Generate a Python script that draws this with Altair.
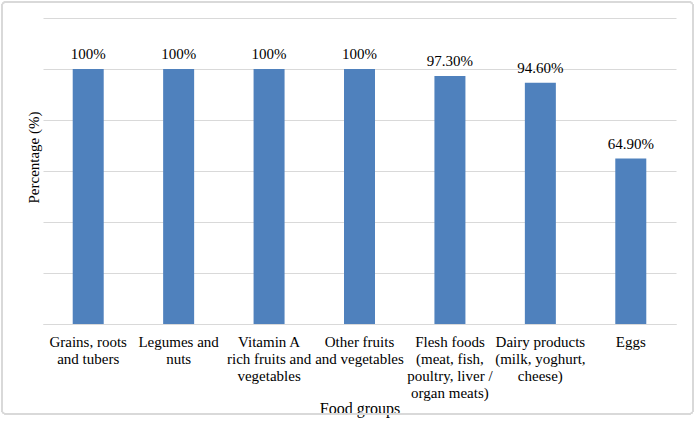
import altair as alt
import pandas as pd

categories = [
    "Grains, roots\nand tubers",
    "Legumes and\nnuts",
    "Vitamin A\nrich fruits and\nvegetables",
    "Other fruits\nand vegetables",
    "Flesh foods\n(meat, fish,\npoultry, liver /\norgan meats)",
    "Dairy products\n(milk, yoghurt,\ncheese)",
    "Eggs",
]
values = [100, 100, 100, 100, 97.3, 94.6, 64.9]
value_labels = ["100%", "100%", "100%", "100%", "97.30%", "94.60%", "64.90%"]

df = pd.DataFrame({"cat": categories, "val": values, "lab": value_labels})

FONT = "Liberation Serif"

x = alt.X("cat:N", sort=categories, title="Food groups",
          scale=alt.Scale(paddingInner=0.0, paddingOuter=0.0),
          axis=alt.Axis(labelExpr="split(datum.label, '\\n')", labelAngle=0,
                        labelFont=FONT, labelFontSize=15, labelColor="black",
                        labelFontWeight="normal",
                        labelLineHeight=17, labelPadding=10, labelBaseline="top",
                        ticks=False, domainColor="#d9d9d9",
                        titleFont=FONT, titleFontSize=16, titleFontWeight="normal",
                        titleColor="black", titleY=89, titleBaseline="alphabetic"))
y = alt.Y("val:Q", title="Percentage (%)",
          scale=alt.Scale(domain=[0, 120], nice=False),
          axis=alt.Axis(values=[0, 20, 40, 60, 80, 100, 120], labels=False, ticks=False,
                        domain=False, gridColor="#d9d9d9",
                        titleFont=FONT, titleFontSize=15, titleFontWeight="normal",
                        titleColor="black", titleX=-5, titleY=139,
                        titleBaseline="alphabetic", titleAngle=-90))

bars = alt.Chart(df).mark_bar(color="#4f81bd", size=31).encode(x=x, y=y)
text = alt.Chart(df).mark_text(font=FONT, fontSize=15, fontWeight="normal", color="black",
                               dy=-15, baseline="middle").encode(x=x, y=y, text="lab:N")

border = alt.Chart(df).mark_rect(filled=False, stroke="#d9d9d9", strokeWidth=1.5,
                                 cornerRadius=4).encode(
    x=alt.value(-41), x2=alt.value(650), y=alt.value(-16), y2=alt.value(396))

chart = alt.layer(border, bars, text).properties(
    width=633, height=306,
    padding={"left": 43, "top": 18, "right": 20, "bottom": 98},
    autosize=alt.AutoSizeParams(type="none"),
).configure_view(stroke=None)

chart.save("out.html", embed_options={"renderer": "svg", "actions": False})
